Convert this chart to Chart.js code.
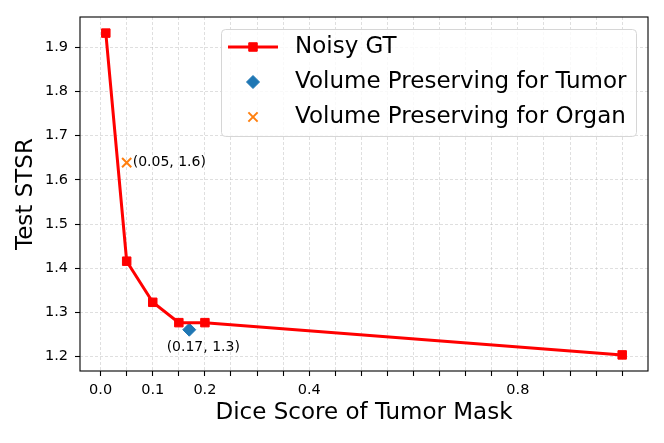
<!DOCTYPE html>
<html>
<head>
<meta charset="utf-8">
<script src="https://cdn.jsdelivr.net/npm/chart.js@4.4.0/dist/chart.umd.min.js"></script>
<style>
  html, body { margin: 0; padding: 0; background: #fff; }
  #wrap { width: 664px; height: 443px; }
</style>
</head>
<body>
<div id="wrap"><canvas id="chart"></canvas></div>
<script>
// --- data ---
const noisyX = [0.01, 0.05, 0.1, 0.15, 0.2, 1.0];
const noisyY = [1.932, 1.416, 1.323, 1.277, 1.277, 1.204];
const tumorX = [0.17];
const tumorY = [1.261];
const organX = [0.05];
const organY = [1.639];

const xTickValues = [0, 0.05, 0.1, 0.15, 0.2, 0.25, 0.3, 0.35, 0.4, 0.45, 0.5,
                     0.55, 0.6, 0.65, 0.7, 0.75, 0.8, 0.85, 0.9, 0.95, 1.0];
const xLabelValues = [0, 0.1, 0.2, 0.4, 0.8];
const xLabelTexts = ['0.0', '0.1', '0.2', '0.4', '0.8'];
const yTickValues = [1.2, 1.3, 1.4, 1.5, 1.6, 1.7, 1.8, 1.9];

const organNote = '(0.05, 1.6)';
const tumorNote = '(0.17, 1.3)';

const FONT = "'DejaVu Sans', sans-serif";
Chart.defaults.font.family = FONT;
Chart.defaults.color = '#000';

const toPts = (xs, ys) => xs.map((x, i) => ({ x: x, y: ys[i] }));

// matplotlib-like boxed frame
const framePlugin = {
  id: 'frame',
  afterDraw(chart) {
    const { ctx, chartArea: a } = chart;
    ctx.save();
    ctx.strokeStyle = '#000';
    ctx.lineWidth = 1.1;
    ctx.strokeRect(a.left, a.top, a.right - a.left, a.bottom - a.top);
    ctx.restore();
  }
};

// text labels next to the two single points
const notePlugin = {
  id: 'notes',
  afterDatasetsDraw(chart) {
    const { ctx, scales } = chart;
    ctx.save();
    ctx.font = '14px ' + FONT;
    ctx.fillStyle = '#000';
    ctx.textBaseline = 'middle';
    ctx.textAlign = 'left';
    ctx.fillText(organNote, scales.x.getPixelForValue(organX[0]) + 6, scales.y.getPixelForValue(organY[0]));
    ctx.textAlign = 'center';
    ctx.fillText(tumorNote, scales.x.getPixelForValue(tumorX[0]) + 14, scales.y.getPixelForValue(tumorY[0]) + 18);
    ctx.restore();
  }
};

// legend box in the upper right, drawn from the datasets
const legendPlugin = {
  id: 'boxLegend',
  afterDraw(chart) {
    const { ctx } = chart;
    const box = { x: 221, y: 29, w: 415, h: 107 };
    ctx.save();
    ctx.beginPath();
    ctx.roundRect(box.x + 0.5, box.y + 0.5, box.w, box.h, 4);
    ctx.fillStyle = 'rgba(255,255,255,0.8)';
    ctx.fill();
    ctx.strokeStyle = '#d6d6d6';
    ctx.lineWidth = 1;
    ctx.stroke();

    const rows = [47, 82, 117];
    chart.data.datasets.forEach((ds, i) => {
      const cy = rows[i];
      if (ds.showLine) {
        ctx.beginPath();
        ctx.moveTo(228, cy);
        ctx.lineTo(278, cy);
        ctx.strokeStyle = ds.borderColor;
        ctx.lineWidth = ds.borderWidth;
        ctx.stroke();
      }
      ctx.fillStyle = ds.pointBackgroundColor;
      ctx.strokeStyle = ds.pointBorderColor;
      ctx.lineWidth = ds.pointBorderWidth;
      Chart.helpers.drawPoint(ctx, {
        pointStyle: ds.pointStyle,
        radius: ds.pointRadius,
        borderWidth: ds.pointBorderWidth,
        rotation: 0
      }, 253, cy);
      ctx.font = '23px ' + FONT;
      ctx.fillStyle = '#000';
      ctx.textAlign = 'left';
      ctx.textBaseline = 'middle';
      ctx.fillText(ds.label, 295, cy);
    });
    ctx.restore();
  }
};

const gridCommon = {
  color: 'rgba(176,176,176,0.5)',
  lineWidth: 0.8,
  borderDash: [3, 2],
  drawTicks: true,
  tickLength: 5,
  tickColor: '#000',
  tickWidth: 1.1,
  tickBorderDash: []
};

new Chart(document.getElementById('chart'), {
  type: 'scatter',
  data: {
    datasets: [
      {
        label: 'Noisy GT',
        data: toPts(noisyX, noisyY),
        showLine: true,
        borderColor: '#ff0000',
        borderWidth: 3,
        pointStyle: 'rect',
        pointRadius: 6,
        pointBackgroundColor: '#ff0000',
        pointBorderColor: '#ff0000',
        pointBorderWidth: 1
      },
      {
        label: 'Volume Preserving for Tumor',
        data: toPts(tumorX, tumorY),
        showLine: false,
        pointStyle: 'rectRot',
        pointRadius: 6.5,
        pointBackgroundColor: '#1f77b4',
        pointBorderColor: '#1f77b4',
        pointBorderWidth: 1
      },
      {
        label: 'Volume Preserving for Organ',
        data: toPts(organX, organY),
        showLine: false,
        pointStyle: 'crossRot',
        pointRadius: 6.5,
        pointBackgroundColor: '#ff7f0e',
        pointBorderColor: '#ff7f0e',
        pointBorderWidth: 2
      }
    ]
  },
  options: {
    responsive: true,
    maintainAspectRatio: false,
    animation: false,
    layout: { padding: { top: 17, right: 16, bottom: 0, left: 0 } },
    plugins: {
      legend: { display: false },
      tooltip: { enabled: false }
    },
    scales: {
      x: {
        type: 'linear',
        min: -0.0395,
        max: 1.0495,
        afterFit(scale) { scale.height = 72; },
        afterBuildTicks(scale) { scale.ticks = xTickValues.map(v => ({ value: v })); },
        grid: gridCommon,
        border: { display: false, dash: [3, 2] },
        ticks: {
          autoSkip: false,
          maxRotation: 0,
          padding: 5.5,
          font: { size: 14.5 },
          callback(value) {
            const i = xLabelValues.findIndex(v => Math.abs(v - value) < 1e-6);
            return i >= 0 ? xLabelTexts[i] : '';
          }
        },
        title: {
          display: true,
          text: 'Dice Score of Tumor Mask',
          font: { size: 23 },
          padding: { top: 0, bottom: 16 }
        }
      },
      y: {
        type: 'linear',
        min: 1.1676,
        max: 1.9684,
        afterFit(scale) { scale.width = 80; },
        afterBuildTicks(scale) { scale.ticks = yTickValues.map(v => ({ value: v })); },
        grid: gridCommon,
        border: { display: false, dash: [3, 2] },
        ticks: {
          padding: 7,
          font: { size: 14.5 },
          callback(value) { return value.toFixed(1); }
        },
        title: {
          display: true,
          text: 'Test STSR',
          font: { size: 23 },
          padding: { top: 12, bottom: 0 }
        }
      }
    }
  },
  plugins: [framePlugin, notePlugin, legendPlugin]
});
</script>
</body>
</html>
